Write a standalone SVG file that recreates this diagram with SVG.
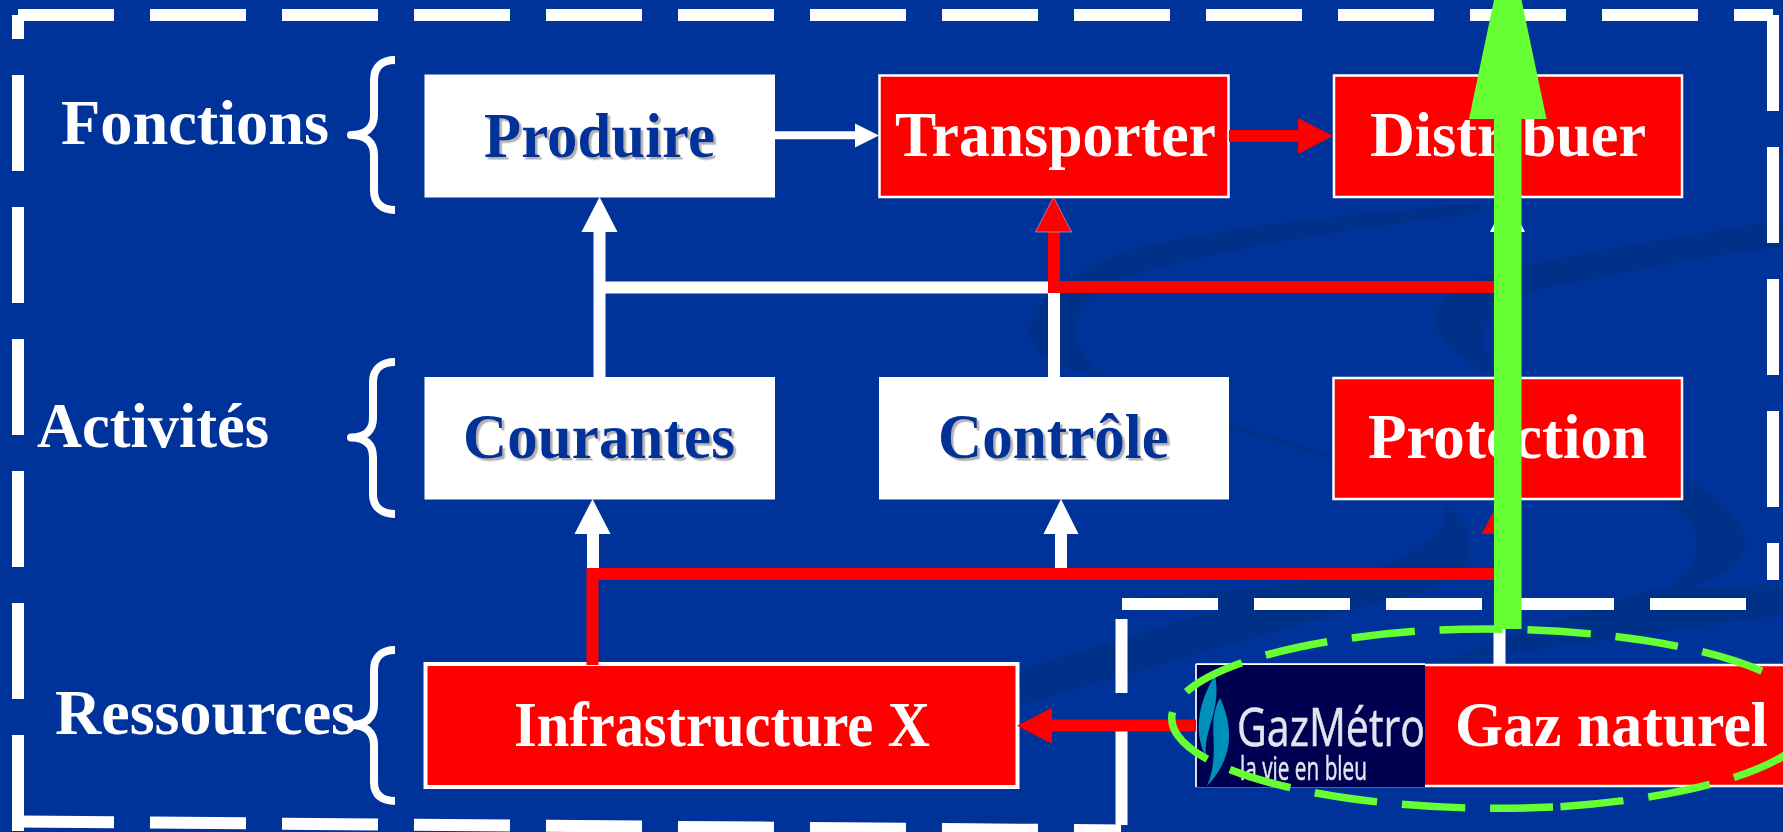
<svg xmlns="http://www.w3.org/2000/svg" width="1783" height="832" viewBox="0 0 1783 832">
<style>
text{font-family:"Liberation Serif","Times New Roman",serif;font-weight:bold;font-size:64px}
.lbl{fill:#fff}
.blue{fill:#003399;filter:url(#sh)}
.wbox{fill:#fff;stroke:#fff;stroke-width:1}
.rbox{fill:#f00;stroke:#fff;stroke-width:2.5}
.frame{fill:none;stroke:#fff;stroke-width:12;stroke-dasharray:96 36}
.brace{fill:none;stroke:#fff;stroke-width:8;stroke-linejoin:round}
.sw{fill:#003189}
.wl{stroke:#fff;stroke-width:12;fill:none}
.rl{stroke:#f00;stroke-width:12;fill:none}
.wh{fill:#fff}
.rh{fill:#f00}
.logo{font-family:"Open Sans","Noto Sans",sans-serif;font-weight:400;fill:#e4e4f0;stroke:#e4e4f0;stroke-width:0.500;filter:url(#bl)}
</style>
<defs>
<filter id="sh" x="-5%" y="-10%" width="110%" height="125%"><feDropShadow dx="2.5" dy="2.5" stdDeviation="0.4" flood-color="#b2b2b2"/></filter>
<filter id="bl" x="-5%" y="-10%" width="110%" height="120%"><feGaussianBlur stdDeviation="0.7"/></filter>
</defs>
<rect width="1783" height="832" fill="#003399"/>
<g id="background">
<path class="sw" d="M1480,203C1350,215 1230,225 1130,250C1060,275 1030,305 1030,332C1030,352 1060,370 1105,377C1085,360 1075,345 1075,330C1078,300 1100,285 1130,275C1240,245 1360,228 1480,213Z"/>
<path class="sw" d="M1230,423L1330,455L1330,458L1230,428Z"/>
<path class="sw" d="M1440,500C1462,515 1472,535 1470,555C1460,580 1420,595 1390,600L1130,610L1130,598C1250,590 1340,580 1385,565C1430,545 1450,525 1445,510Z"/>
<path class="sw" d="M1783,220C1700,232 1600,250 1500,270C1460,285 1435,300 1435,320C1435,340 1470,365 1495,377L1495,367C1482,350 1480,340 1485,325C1500,305 1530,292 1550,287C1640,270 1710,255 1783,247Z"/>
<path class="sw" d="M1683,477C1725,500 1745,525 1745,545C1745,565 1700,590 1650,600C1680,585 1697,565 1697,543C1697,525 1680,510 1665,503Z"/>
<path class="sw" d="M1019,670L1250,600L1385,600L1020,705Z"/>
<path class="sw" d="M1440,663L1783,615L1783,585L1650,590L1500,640Z"/>
</g>
<g id="frames">
<path class="frame" d="M18,15H1773"/>
<path class="frame" d="M1773,15V580"/>
<path class="frame" d="M18,831V15"/>
<path class="frame" d="M18,821.500L1121,830.500"/>
<path class="frame" d="M1121.500,825V619"/>
<path class="frame" d="M1122,604H1746"/>
</g>
<g id="braces">
<path class="brace" d="M395,60C383,60 374,66 374,80V115C374,128 365,135 351,135C365,135 374,142 374,155V190C374,204 383,210 395,210"/>
<path class="brace" d="M395,362C383,362 373,368 373,382V418C373,431 365,437.500 351,437.500C365,437.500 373,444 373,457V494C373,508 383,514 395,514"/>
<path class="brace" d="M395,650C383,650 374,656 374,670V705C374,718 365,725 351,725C365,725 374,732 374,745V782C374,796 383,801 395,801"/>
</g>
<g id="label-fonctions"><text class="lbl" x="61" y="144" textLength="268" lengthAdjust="spacingAndGlyphs">Fonctions</text></g>
<g id="label-activites"><text class="lbl" x="37" y="447" textLength="232" lengthAdjust="spacingAndGlyphs">Activités</text></g>
<g id="label-ressources"><text class="lbl" x="55" y="733.500" textLength="301" lengthAdjust="spacingAndGlyphs">Ressources</text></g>
<g id="node-produire"><rect class="wbox" x="425" y="75" width="349.500" height="122"/><text class="blue" x="484" y="157" textLength="231" lengthAdjust="spacingAndGlyphs">Produire</text></g>
<g id="node-transporter"><rect class="rbox" x="879.500" y="75.500" width="349" height="121.500"/><text class="lbl" x="895" y="156" textLength="321" lengthAdjust="spacingAndGlyphs">Transporter</text></g>
<g id="node-distribuer"><rect class="rbox" x="1334" y="75.500" width="348" height="121.500"/><text class="lbl" x="1370" y="156" textLength="276" lengthAdjust="spacingAndGlyphs">Distribuer</text></g>
<g id="node-courantes"><rect class="wbox" x="425" y="377.500" width="349.500" height="121.500"/><text class="blue" x="463" y="458" textLength="272" lengthAdjust="spacingAndGlyphs">Courantes</text></g>
<g id="node-controle"><rect class="wbox" x="879.500" y="377.500" width="349" height="121.500"/><text class="blue" x="938" y="458" textLength="231" lengthAdjust="spacingAndGlyphs">Contrôle</text></g>
<g id="node-protection"><rect class="rbox" x="1333.500" y="378" width="348.500" height="121"/><text class="lbl" x="1368" y="458" textLength="279" lengthAdjust="spacingAndGlyphs">Protection</text></g>
<g id="node-infrastructure"><rect x="425.500" y="664" width="592" height="123" fill="#f00" stroke="#fff" stroke-width="4"/><text class="lbl" x="514" y="746" textLength="416" lengthAdjust="spacingAndGlyphs">Infrastructure X</text></g>
<g id="node-gaz">
<rect class="rbox" x="1197" y="665" width="640" height="121"/>
<rect x="1196.500" y="665" width="228.500" height="122" fill="#000050"/>
<path d="M1196,664H1425M1196,664V787" stroke="#fff" stroke-width="1.500" fill="none"/>
<path d="M1215,675C1200,700 1192,730 1206,757C1203,730 1222,710 1215,675Z" fill="#008fb8"/>
<path d="M1220,698C1205,725 1222,750 1207,786C1232,760 1235,730 1220,698Z" fill="#008fb8"/>
<text class="logo" x="1237" y="745.500" textLength="188" lengthAdjust="spacingAndGlyphs" style="font-size:53px">GazMétro</text>
<text class="logo" x="1240" y="780" style="font-size:33px" textLength="127" lengthAdjust="spacingAndGlyphs">la vie en bleu</text>
<text class="lbl" x="1455" y="746" textLength="313" lengthAdjust="spacingAndGlyphs">Gaz naturel</text>
</g>
<g id="connectors">
<path d="M775,135.300H855" stroke="#fff" stroke-width="8" fill="none"/>
<polygon class="wh" points="855,123.500 879,135.500 855,147.500"/>
<path class="wl" d="M599.500,377V232"/>
<polygon class="wh" points="599.500,197 581.500,232 617.500,232"/>
<path class="wl" d="M599.500,287.500H1048M1054,377V293"/>
<path class="wl" d="M593,568V534"/>
<polygon class="wh" points="592.500,499 574.500,534 610.500,534"/>
<path class="wl" d="M1061,568V534"/>
<polygon class="wh" points="1061,499 1043.500,534 1078.500,534"/>
<polygon class="wh" points="1507.500,198 1490,232 1525,232"/>
<path class="wl" d="M1499.500,664V625"/>
<path class="rl" d="M1229,136H1298"/>
<polygon class="rh" points="1298,118 1333,136 1298,154"/>
<path class="rl" d="M1494,287H1054V232"/>
<polygon class="rh" stroke="#fff" stroke-width="0.400" points="1053.500,197 1035.500,232 1071.500,232"/>
<path class="rl" d="M592.500,665V574H1494"/>
<polygon class="rh" points="1500,499 1481.700,534 1518,534"/>
<path class="rl" d="M1196,725.500H1052"/>
<polygon class="rh" points="1017,725.700 1052,707.700 1052,743.700"/>
<path id="link-ellipse" d="M1553,807.100A327,90 0 0 1 1431,630.300A327,90 0 0 1 1553,807.100" fill="none" stroke="#66ff33" stroke-width="7.500" stroke-dasharray="63 25"/>
<path d="M1494,629V119H1469L1494,0H1521.500L1546.500,119H1521.500V629Z" fill="#66ff33"/>
</g>
</svg>
